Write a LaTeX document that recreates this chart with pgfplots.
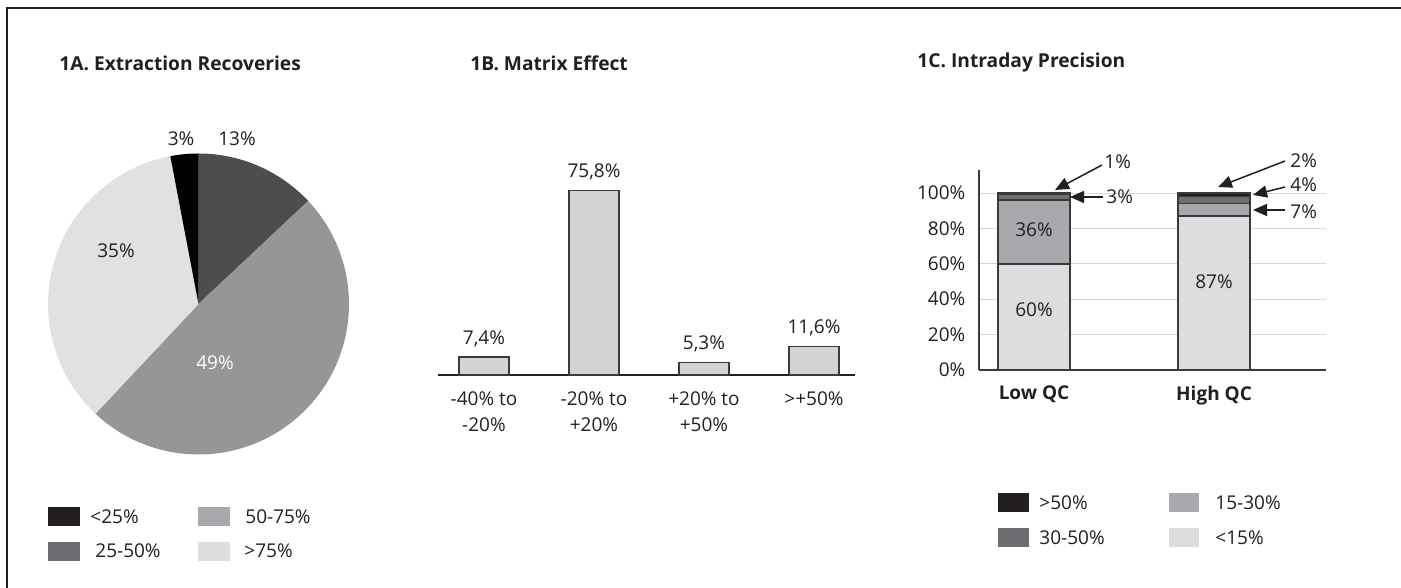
\documentclass[border=0pt]{standalone}
\usepackage{fontspec}
\setmainfont{Open Sans}
\usepackage{pgfplots}
\pgfplotsset{compat=1.18}
\usetikzlibrary{arrows.meta}

\definecolor{ink}{HTML}{231F20}
\definecolor{edge}{HTML}{3A3A3A}
% pie wedges
\definecolor{pieA}{HTML}{000000}
\definecolor{pieB}{HTML}{4D4D4D}
\definecolor{pieC}{HTML}{969696}
\definecolor{pieD}{HTML}{E1E1E1}
% swatches and stacked bars
\definecolor{gA}{HTML}{231F20}
\definecolor{gB}{HTML}{6D6E71}
\definecolor{gC}{HTML}{A7A9AC}
\definecolor{gD}{HTML}{DCDDDE}
\definecolor{barB}{HTML}{D1D3D4}
\definecolor{gridc}{HTML}{D6D6D6}

% 1A shares (percent), clockwise from 12 o'clock
\def\pB{13}\def\pC{49}\def\pD{35}\def\pA{3}
\pgfmathsetmacro\tB{90-3.6*\pB}
\pgfmathsetmacro\tC{\tB-3.6*\pC}
\pgfmathsetmacro\tD{\tC-3.6*\pD}
\pgfmathsetmacro\tA{\tD-3.6*\pA}
\def\R{75.25pt}

\newcommand\lab{\fontsize{9.5}{11.5}\selectfont}
\pgfplotsset{every axis/.append style={font=\lab},
  /pgf/number format/assume math mode=true}

\begin{document}
\lab
\begin{tikzpicture}[x=0.5pt,y=0.5pt,font=\lab,text=ink]
\useasboundingbox (0,0) rectangle (1401,588);
\draw[ink,line width=0.75pt] (7,0) -- (7,580) -- (1401,580);

% anchor points of the three plots
\coordinate (pieO) at (198.5,284);
\coordinate (meO) at (438,213);
\coordinate (ipO) at (979,218);

% titles
\begin{scope}[every node/.style={anchor=west,inner sep=0pt,font=\bfseries\fontsize{9.6}{11}\selectfont}]
\node at (59,525) {1A. Extraction Recoveries};
\node at (470,525) {1B. Matrix Effect};
\node at (917,525) {1C. Intraday Precision};
\end{scope}

% ---------- 1A pie ----------
\begin{axis}[at={(pieO)},anchor=center,scale only axis,
  width=150.5pt,height=150.5pt,xmin=-1,xmax=1,ymin=-1,ymax=1,
  hide axis,clip=false]
\fill[pieB] (axis cs:0,0) -- ++(90:\R) arc[start angle=90,end angle=\tB,radius=\R] -- cycle;
\fill[pieC] (axis cs:0,0) -- ++(\tB:\R) arc[start angle=\tB,end angle=\tC,radius=\R] -- cycle;
\fill[pieD] (axis cs:0,0) -- ++(\tC:\R) arc[start angle=\tC,end angle=\tD,radius=\R] -- cycle;
\fill[pieA] (axis cs:0,0) -- ++(\tD:\R) arc[start angle=\tD,end angle=\tA,radius=\R] -- cycle;
\node at (axis cs:-0.116,1.096) {3\%};
\node at (axis cs:0.256,1.096) {13\%};
\node at (axis cs:-0.548,0.352) {35\%};
\node[text=white] at (axis cs:0.11,-0.392) {49\%};
\end{axis}

% 1A legend
\begin{scope}[every path/.style={draw=edge,line width=0.5pt}]
\fill[gA] (48,80) rectangle (79,62);
\fill[gB] (48,45) rectangle (79,27);
\fill[gC] (198,80) rectangle (229,62);
\fill[gD] (198,45) rectangle (229,27);
\end{scope}
\begin{scope}[every node/.style={anchor=west,inner sep=0pt}]
\node at (90,71) {<25\%};
\node at (95,37) {25-50\%};
\node at (245,71) {50-75\%};
\node at (244,37) {>75\%};
\end{scope}

% ---------- 1B bars ----------
\begin{axis}[at={(meO)},anchor=south west,scale only axis,
  width=208.5pt,height=97.2pt,xmin=-0.418,xmax=3.373,ymin=0,ymax=80,
  axis x line=bottom,axis y line=none,
  axis line style={-,line width=1pt,ink},
  xtick={0,1,2,3},
  xticklabels={{-40\% to\\-20\%},{-20\% to\\+20\%},{+20\% to\\+50\%},{>+50\%}},
  xticklabel style={align=center,font=\fontsize{9.5}{13}\selectfont,yshift=-5pt},
  ytick=\empty,major tick length=0pt,
  ybar,bar width=25pt,clip=false,
  nodes near coords={\pgfmathprintnumber[fixed,precision=1,fixed zerofill,use comma]{\pgfplotspointmeta}\%},
  every node near coord/.append style={anchor=base,yshift=6.5pt}]
\addplot[fill=barB,draw=edge,line width=0.6pt] coordinates {(0,7.4) (1,75.8) (2,5.3) (3,11.6)};
\end{axis}

% ---------- 1C stacked bars ----------
\begin{axis}[at={(ipO)},anchor=south west,scale only axis,
  width=173.5pt,height=100pt,xmin=-0.3056,xmax=1.622,ymin=0,ymax=113,
  axis lines*=left,axis line style={-,line width=0.75pt,edge},
  ymajorgrids,grid style={gridc,line width=0.5pt},
  ytick={0,20,...,100},yticklabel={\pgfmathprintnumber{\tick}\%},
  yticklabel style={xshift=-3.5pt},
  xtick={0,1},xticklabels={Low QC,High QC},
  xticklabel style={font=\bfseries\fontsize{9.5}{11}\selectfont,yshift=-4.5pt},
  major tick length=0pt,
  ybar stacked,bar width=36pt,clip=false]
\addplot[fill=gD,draw=edge,line width=0.7pt] coordinates {(0,60) (1,87)};
\addplot[fill=gC,draw=edge,line width=0.7pt] coordinates {(0,36) (1,7)};
\addplot[fill=gB,draw=edge,line width=0.7pt] coordinates {(0,3) (1,4)};
\addplot[fill=gA,draw=edge,line width=0.7pt] coordinates {(0,1) (1,2)};
\coordinate (lowA) at (axis cs:0,34);
\coordinate (lowB) at (axis cs:0,79);
\coordinate (highA) at (axis cs:1,50);
\end{axis}
\node at (lowA) {60\%};
\node at (lowB) {36\%};
\node at (highA) {87\%};

% 1C callouts
\begin{scope}[ink,line width=0.75pt,-{Triangle[length=7pt,width=6pt]}]
\draw (1102,423) -- (1055,398);
\draw (1103,391) -- (1070,391);
\draw (1285,427) -- (1218,401);
\draw (1285,401) -- (1253,393);
\draw (1285,378) -- (1253,378);
\end{scope}
\begin{scope}[every node/.style={anchor=west,inner sep=0pt}]
\node at (1104,426) {1\%};
\node at (1106,391) {3\%};
\node at (1290,427) {2\%};
\node at (1290,403) {4\%};
\node at (1290,376) {7\%};
\end{scope}

% 1C legend
\begin{scope}[every path/.style={draw=edge,line width=0.5pt}]
\fill[gA] (998,94) rectangle (1028,76);
\fill[gB] (998,59) rectangle (1028,41);
\fill[gC] (1169,94) rectangle (1198,76);
\fill[gD] (1169,59) rectangle (1198,41);
\end{scope}
\begin{scope}[every node/.style={anchor=west,inner sep=0pt}]
\node at (1039,85) {>50\%};
\node at (1039,50) {30-50\%};
\node at (1215,85) {15-30\%};
\node at (1215,50) {<15\%};
\end{scope}
\end{tikzpicture}
\end{document}
